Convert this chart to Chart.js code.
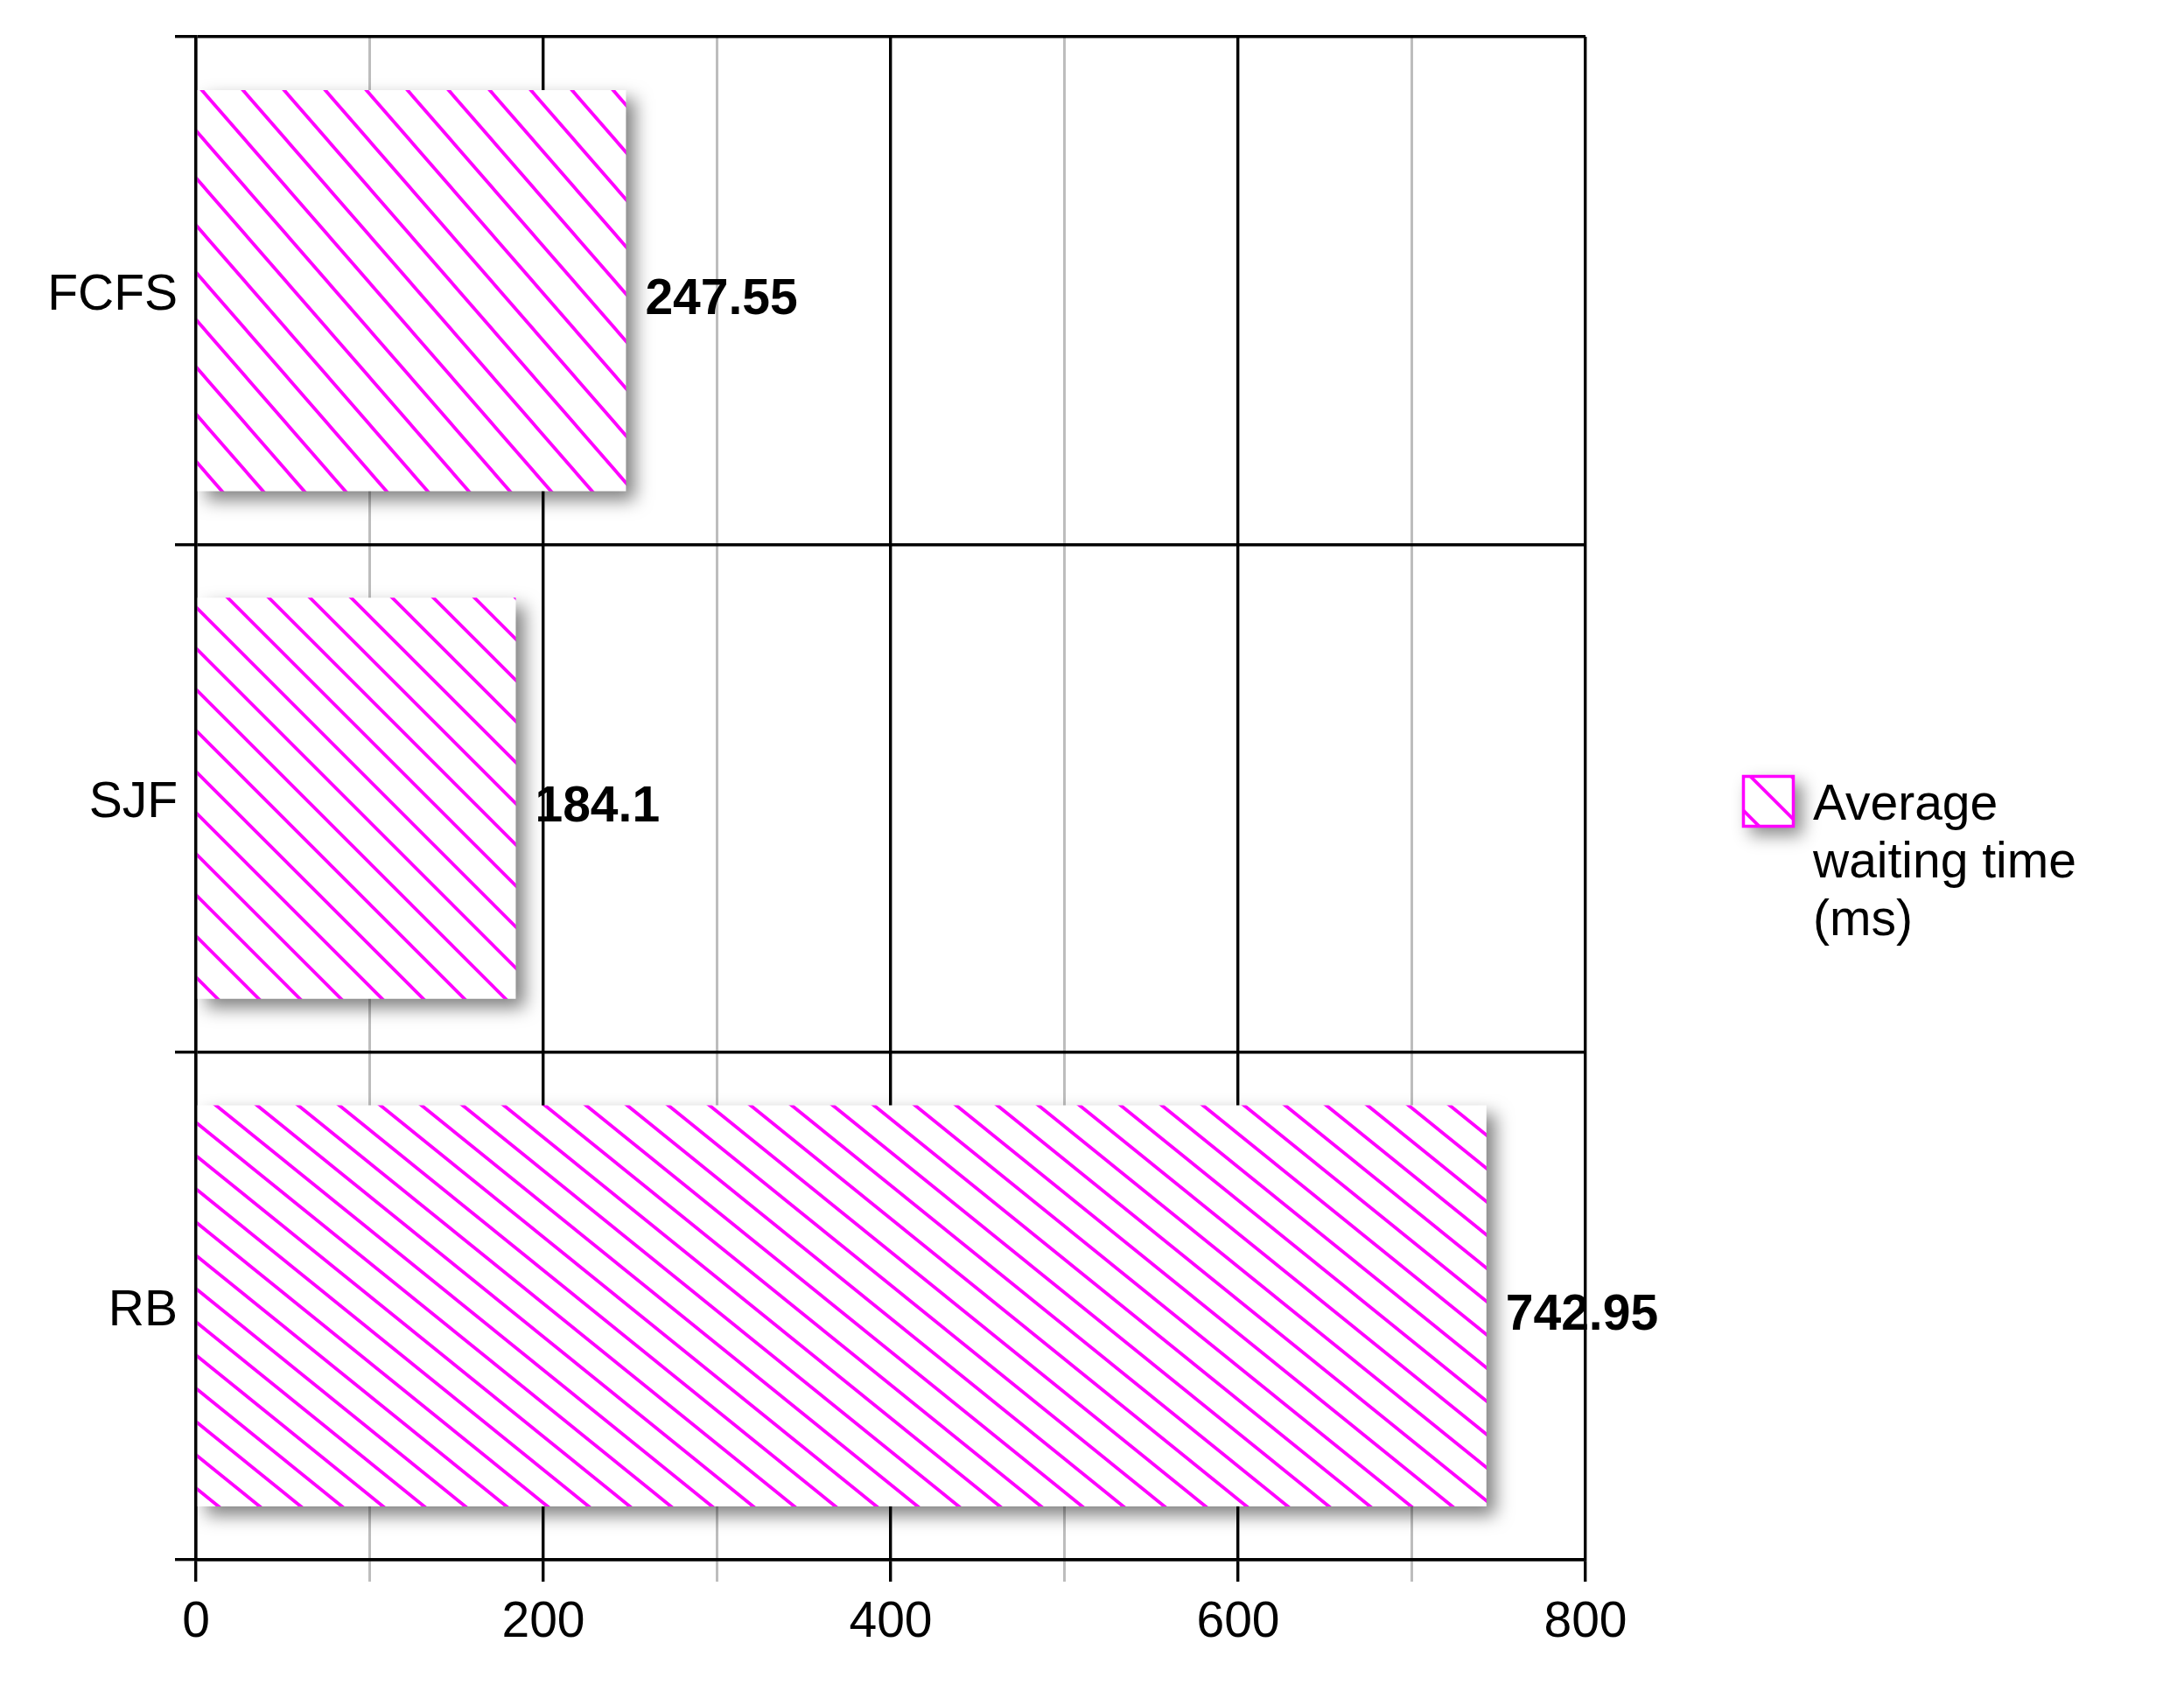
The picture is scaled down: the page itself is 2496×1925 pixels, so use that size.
<!DOCTYPE html>
<html>
<head>
<meta charset="utf-8">
<style>
  html, body { margin: 0; padding: 0; background: #ffffff; }
  #wrap { width: 2496px; height: 1925px; }
</style>
<script src="https://cdn.jsdelivr.net/npm/chart.js@4/dist/chart.umd.min.js"></script>
</head>
<body>
<div id="wrap"><canvas id="c" width="2496" height="1925"></canvas></div>
<script>
// ---- data ----
const categories = ['FCFS', 'SJF', 'RB'];
const waitingTimes = [247.55, 184.1, 742.95];
const seriesLabelLines = ['Average', 'waiting time', '(ms)'];
const xTickLabels = [0, 200, 400, 600, 800];
const xMin = 0;
const xMax = 800;
const xStep = 100;

// ---- style ----
const FONT = "'Liberation Sans', Arial, Helvetica, sans-serif";
const MAGENTA = '#FF00FF';
const hatchStyle = { width: 47, rises: [54, 47, 38], legendRise: 47, line: 3.8 };

function makeHatch(w, h) {
  const c = document.createElement('canvas');
  c.width = w; c.height = h;
  const g = c.getContext('2d');
  g.fillStyle = '#ffffff';
  g.fillRect(0, 0, w, h);
  g.strokeStyle = MAGENTA;
  g.lineWidth = hatchStyle.line;
  g.lineCap = 'butt';
  const segs = [[0, 0, w, h], [-w, 0, 0, h], [w, 0, 2 * w, h]];
  g.beginPath();
  for (const s of segs) {
    const dx = s[2] - s[0], dy = s[3] - s[1];
    g.moveTo(s[0] - dx * 0.2, s[1] - dy * 0.2);
    g.lineTo(s[2] + dx * 0.2, s[3] + dy * 0.2);
  }
  g.stroke();
  return c;
}

const ctx0 = document.getElementById('c').getContext('2d');
const barPatterns = hatchStyle.rises.map(r => ctx0.createPattern(makeHatch(hatchStyle.width, r), 'repeat'));
const legendTile = makeHatch(hatchStyle.width, hatchStyle.legendRise);

const shadowAndLabels = {
  id: 'shadowAndLabels',
  beforeDatasetsDraw(chart) {
    const ctx = chart.ctx;
    ctx.save();
    ctx.shadowColor = 'rgba(0,0,0,0.5)';
    ctx.shadowBlur = 20;
    ctx.shadowOffsetX = 10;
    ctx.shadowOffsetY = 10;
  },
  afterDatasetsDraw(chart) {
    const ctx = chart.ctx;
    ctx.restore();
    const meta = chart.getDatasetMeta(0);
    const data = chart.data.datasets[0].data;
    ctx.save();
    ctx.font = 'bold 57px ' + FONT;
    ctx.fillStyle = '#000000';
    ctx.textAlign = 'left';
    ctx.textBaseline = 'middle';
    meta.data.forEach((bar, i) => {
      ctx.fillText(String(data[i]), bar.x + 22, bar.y + 11);
    });
    ctx.restore();
  }
};

const customLegend = {
  id: 'customLegend',
  afterDraw(chart) {
    const ctx = chart.ctx;
    const bx = 1991, by = 886, bs = 60;
    ctx.save();
    ctx.shadowColor = 'rgba(0,0,0,0.45)';
    ctx.shadowBlur = 18;
    ctx.shadowOffsetX = 9;
    ctx.shadowOffsetY = 9;
    ctx.fillStyle = '#ffffff';
    ctx.fillRect(bx, by, bs, bs);
    ctx.restore();
    ctx.save();
    const pat = ctx.createPattern(legendTile, 'repeat');
    if (pat.setTransform) pat.setTransform(new DOMMatrix().translate(bx + 8, by));
    ctx.fillStyle = pat;
    ctx.fillRect(bx, by, bs, bs);
    ctx.strokeStyle = MAGENTA;
    ctx.lineWidth = 3.5;
    ctx.strokeRect(bx + 1.5, by + 1.5, bs - 3, bs - 3);
    ctx.fillStyle = '#000000';
    ctx.font = '57px ' + FONT;
    ctx.textAlign = 'left';
    ctx.textBaseline = 'alphabetic';
    seriesLabelLines.forEach((t, i) => {
      ctx.fillText(t, 2072, 937 + i * 66);
    });
    ctx.restore();
  }
};

const isMajor = v => xTickLabels.includes(v);

new Chart(ctx0, {
  type: 'bar',
  data: {
    labels: categories,
    datasets: [{
      label: seriesLabelLines.join(' '),
      data: waitingTimes,
      backgroundColor: barPatterns,
      borderWidth: 0,
      categoryPercentage: 1.0,
      barPercentage: 0.79
    }]
  },
  options: {
    indexAxis: 'y',
    responsive: false,
    devicePixelRatio: 1,
    animation: false,
    layout: { padding: { top: 42, right: 684, bottom: 0, left: 0 } },
    plugins: {
      legend: { display: false },
      tooltip: { enabled: false }
    },
    scales: {
      x: {
        type: 'linear',
        min: xMin,
        max: xMax,
        afterFit(scale) { scale.height = 142; },
        ticks: {
          stepSize: xStep,
          autoSkip: false,
          maxRotation: 0,
          padding: 13,
          color: '#000000',
          font: { family: FONT, size: 57 },
          callback: v => (isMajor(v) ? String(v) : '')
        },
        grid: {
          color: c => (isMajor(c.tick.value) ? '#000000' : '#BDBDBD'),
          tickColor: c => (isMajor(c.tick.value) ? '#000000' : '#BDBDBD'),
          lineWidth: c => (isMajor(c.tick.value) ? 3.4 : 3),
          tickLength: 25,
          drawTicks: true
        },
        border: { display: true, color: '#000000', width: 3.4 }
      },
      y: {
        afterFit(scale) { scale.width = 224; },
        ticks: {
          padding: -3,
          labelOffset: 6,
          color: '#000000',
          font: { family: FONT, size: 57 }
        },
        grid: {
          color: '#000000',
          tickColor: '#000000',
          lineWidth: 3.4,
          tickLength: 24,
          offset: true
        },
        border: { display: true, color: '#000000', width: 3.4 }
      }
    }
  },
  plugins: [shadowAndLabels, customLegend]
});
</script>
</body>
</html>
